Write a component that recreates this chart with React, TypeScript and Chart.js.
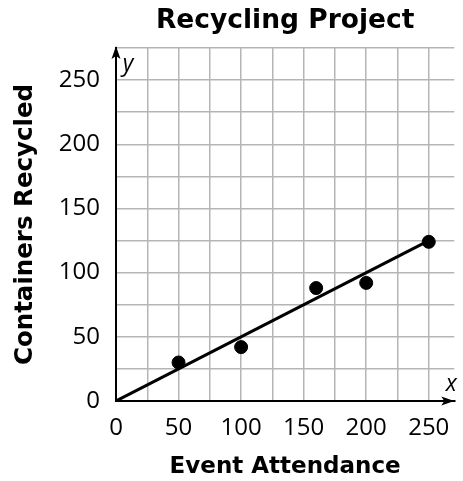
import React, { useEffect, useRef } from "react";
import { Chart, registerables } from "chart.js";

Chart.register(...registerables);

const attendance = [50, 100, 160, 200, 250];
const containers = [30, 42, 88, 92, 124];
const fitLineX = [0, 250];
const fitLineY = [0, 125];
const tickLabels = ["0", "50", "100", "150", "200", "250"];

const FONT = "'Open Sans', 'DejaVu Sans', sans-serif";
const BOLD_FONT = "'DejaVu Sans', sans-serif";

const arrowPlugin = {
  id: "axisArrows",
  afterDraw(chart: any) {
    const { ctx, chartArea } = chart;
    const { left, bottom, right, top } = chartArea;
    ctx.save();
    ctx.fillStyle = "#000";
    // y arrow
    ctx.beginPath();
    ctx.moveTo(left, top - 2);
    ctx.lineTo(left - 4.5, top + 11);
    ctx.lineTo(left, top + 8);
    ctx.lineTo(left + 4.5, top + 11);
    ctx.closePath();
    ctx.fill();
    // x arrow
    ctx.beginPath();
    ctx.moveTo(right, bottom);
    ctx.lineTo(right - 13, bottom - 4.5);
    ctx.lineTo(right - 10, bottom);
    ctx.lineTo(right - 13, bottom + 4.5);
    ctx.closePath();
    ctx.fill();
    ctx.font = `italic 23px ${FONT}`;
    ctx.textAlign = "center";
    ctx.textBaseline = "alphabetic";
    ctx.fillText("y", left + 12, top + 23);
    ctx.fillText("x", right - 3, bottom - 10);
    ctx.restore();
  },
};

export default function App() {
  const ref = useRef<HTMLCanvasElement>(null);
  useEffect(() => {
    if (!ref.current) return;
    const tickCb = (v: any) => {
      const i = tickLabels.indexOf(String(v));
      return i >= 0 ? tickLabels[i] : "";
    };
    const chart = new Chart(ref.current, {
      type: "scatter",
      data: {
        datasets: [
          {
            type: "scatter",
            data: attendance.map((x, i) => ({ x, y: containers[i] })),
            backgroundColor: "#000",
            borderColor: "#000",
            pointRadius: 6.5,
            pointHoverRadius: 6.5,
            order: 0,
          },
          {
            type: "line",
            data: fitLineX.map((x, i) => ({ x, y: fitLineY[i] })),
            borderColor: "#000",
            borderWidth: 3,
            pointRadius: 0,
            showLine: true,
            fill: false,
            order: 1,
          } as any,
        ],
      },
      options: {
        animation: false,
        responsive: false,
        maintainAspectRatio: false,
        layout: { padding: 0 },
        plugins: {
          legend: { display: false },
          tooltip: { enabled: false },
          title: {
            display: true,
            text: "Recycling Project",
            fullSize: false,
            color: "#000",
            font: { family: BOLD_FONT, size: 26.5, weight: "bold" },
            padding: { top: 5, bottom: 11.2 },
          },
        },
        scales: {
          x: {
            type: "linear",
            min: 0,
            max: 270.4,
            afterFit: (s: any) => {
              s.height = 80;
            },
            border: { color: "#000", width: 2 },
            grid: { color: "#b5b5b5", lineWidth: 1.5, drawTicks: false },
            ticks: {
              stepSize: 25,
              includeBounds: false,
              autoSkip: false,
              maxRotation: 0,
              minRotation: 0,
              padding: 13,
              color: "#000",
              font: { family: FONT, size: 24 },
              callback: tickCb,
            },
            title: {
              display: true,
              text: "Event Attendance",
              color: "#000",
              font: { family: BOLD_FONT, size: 23, weight: "bold" },
              padding: { top: 1, bottom: 0 },
            },
          },
          y: {
            type: "linear",
            min: 0,
            max: 275,
            afterFit: (s: any) => {
              s.width = 116;
            },
            border: { color: "#000", width: 2 },
            grid: { color: "#b5b5b5", lineWidth: 1.5, drawTicks: false },
            ticks: {
              stepSize: 25,
              includeBounds: false,
              autoSkip: false,
              padding: 16,
              color: "#000",
              font: { family: FONT, size: 24 },
              callback: tickCb,
            },
            title: {
              display: true,
              text: "Containers Recycled",
              color: "#000",
              font: { family: BOLD_FONT, size: 24.5, weight: "bold" },
              padding: { top: 11, bottom: 0 },
            },
          },
        },
      },
      plugins: [arrowPlugin],
    });
    return () => chart.destroy();
  }, []);
  return (
    <div style={{ position: "absolute", left: 0, top: 0, width: 463, height: 481 }}>
      <canvas ref={ref} width={463} height={481} style={{ width: 463, height: 481 }} />
    </div>
  );
}
